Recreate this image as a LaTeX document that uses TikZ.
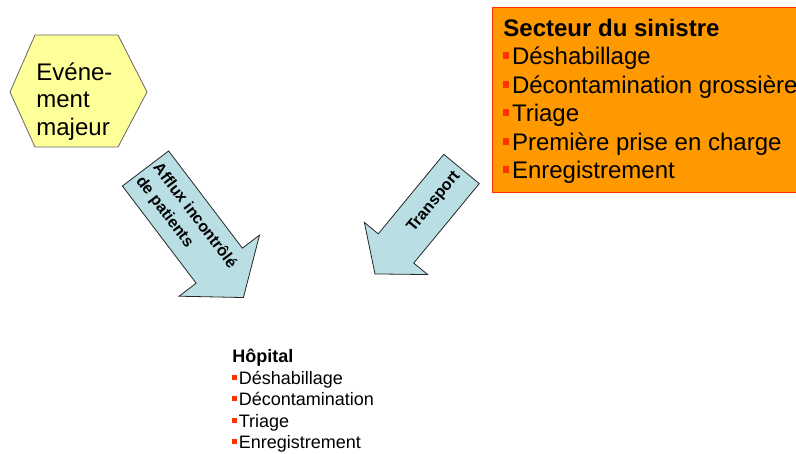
\documentclass[tikz,border=0pt]{standalone}
\usepackage{fontspec}
\setmainfont{Liberation Sans}
\usetikzlibrary{positioning}

\definecolor{jaunepale}{HTML}{FFFF99}
\definecolor{orangeboite}{HTML}{FF9900}
\definecolor{rougebord}{HTML}{FF3300}
\definecolor{bleufleche}{HTML}{B9DFE4}
\newcommand{\puce}{\textcolor{rougebord}{\rule[0.24em]{0.24em}{0.28em}}\hspace{0.12em}}

\begin{document}
\begin{tikzpicture}[x=0.5pt,y=0.5pt]
    \tikzstyle{every node}+=[inner sep=0pt]
    \tikzstyle{fleche}=[draw=black!85, fill=bleufleche]
    \tikzstyle{liste}=[anchor=north west, align=left]
    \clip (0,0) rectangle (796,-454);
    % evenement majeur
    \draw [fill=jaunepale, draw=black!60] (10,-92) -- (35,-35) -- (118,-35) -- (147,-92) -- (118,-147) -- (35,-147) -- cycle;
    \node (evenement) [liste, font=\fontsize{12}{13.75}\selectfont] at (36,-62) {Evéne-\\ment\\majeur};
    % secteur du sinistre
    \draw [fill=orangeboite, draw=rougebord] (492,-7) rectangle (812,-192);
    \node (secteur) [liste, font=\fontsize{12}{14.25}\selectfont] at (503,-18.5)
        {\textbf{Secteur du sinistre}\\\puce Déshabillage\\\puce Décontamination grossière\\\puce Triage\\\puce Première prise en charge\\\puce Enregistrement};
    % fleches
    \draw [fleche, shift={(145.5,-168.5)}, rotate=-52.8] (0,29) -- (122,29) -- (122,50.5) -- (162,0) -- (122,-50.5) -- (122,-29) -- (0,-29) -- cycle;
    \node (afflux) [align=left, rotate=-52.8, font=\fontsize{8}{10.8}\selectfont\bfseries] at (186,-222.5) {Afflux incontrôlé\\de patients};
    \draw [fleche, shift={(461.5,-169)}, rotate=230.5] (0,23) -- (103,23) -- (103,41) -- (136,0) -- (103,-41) -- (103,-23) -- (0,-23) -- cycle;
    \node (transport) [rotate=50.5, font=\fontsize{8}{10}\selectfont\bfseries] at (434,-202) {Transport};
    % hopital
    \node (hopital) [liste, font=\fontsize{9}{10.75}\selectfont] at (232,-348.7)
        {\textbf{Hôpital}\\\puce Déshabillage\\\puce Décontamination\\\puce Triage\\\puce Enregistrement};
\end{tikzpicture}
\end{document}
